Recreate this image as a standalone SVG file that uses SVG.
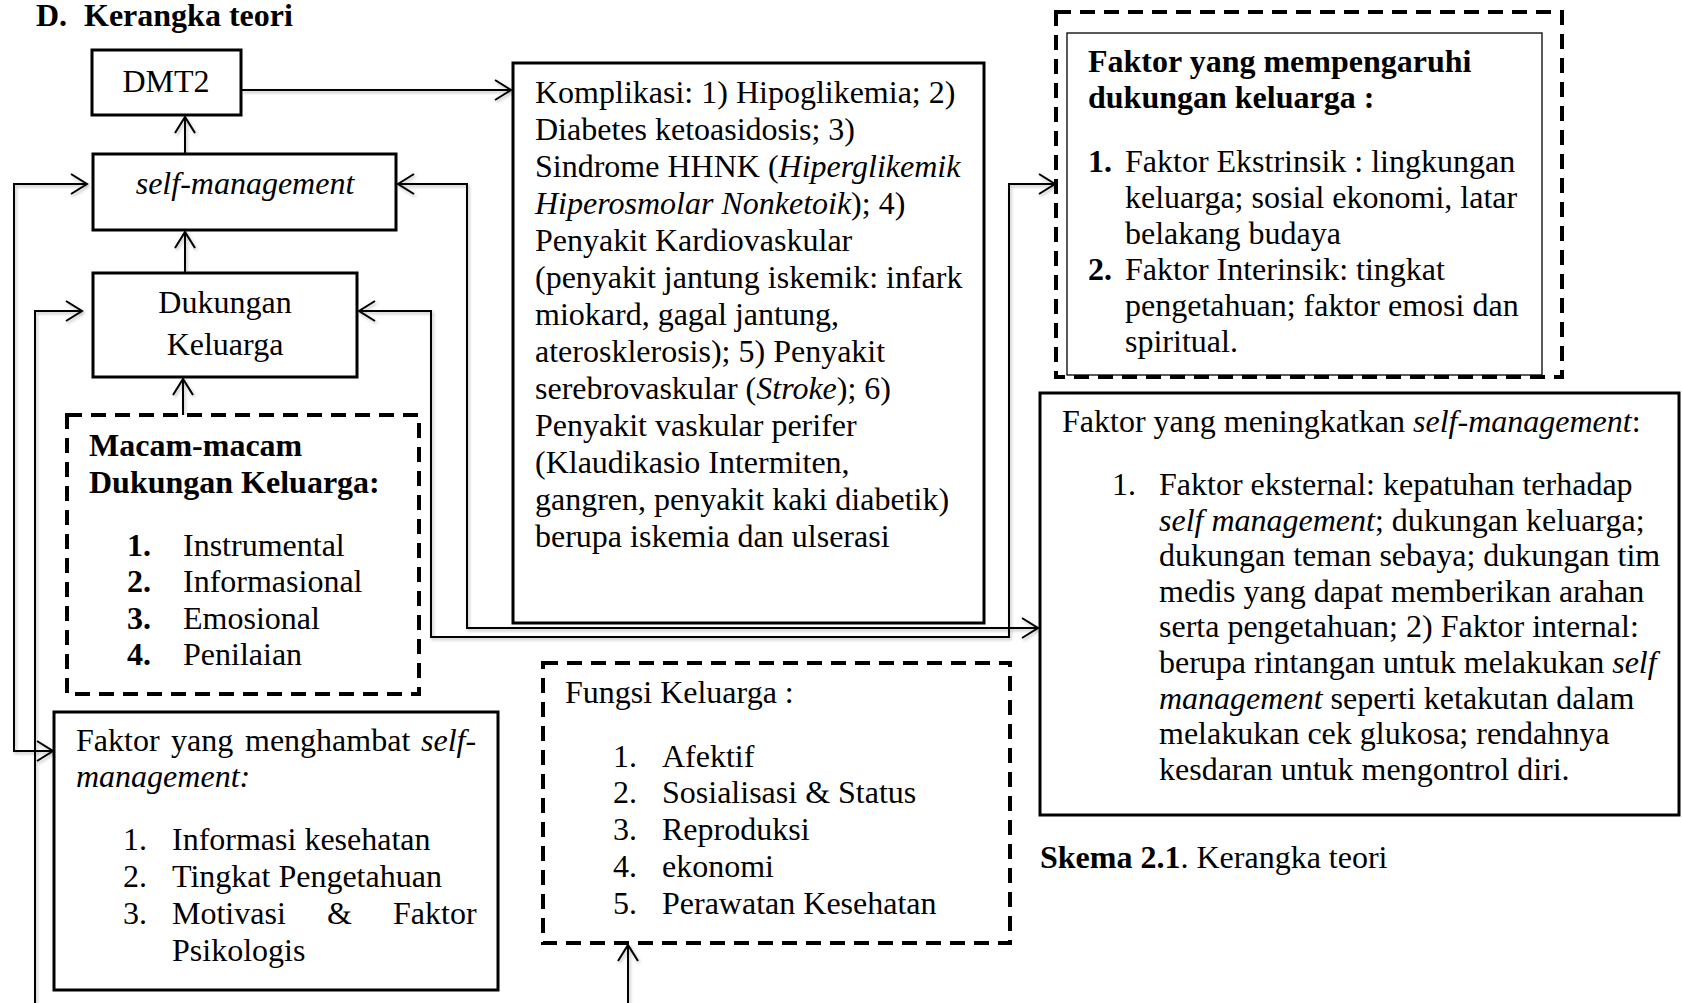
<svg xmlns="http://www.w3.org/2000/svg" width="1682" height="1003" viewBox="0 0 1682 1003">
<style>
.t{font-family:"Liberation Serif","Times New Roman",serif;font-size:32px;fill:#000}
.b{font-weight:bold}
.i{font-style:italic}
.box{fill:#fff;stroke:#000;stroke-width:3}
.thin{fill:none;stroke:#000;stroke-width:1.3}
.dash{fill:#fff;stroke:#000;stroke-width:4;stroke-dasharray:15 9}
.con{fill:none;stroke:#000;stroke-width:2;stroke-linejoin:miter}
</style>
<defs>
<marker id="arr" viewBox="-18 -12 20 24" refX="0" refY="0" markerWidth="20" markerHeight="24" markerUnits="userSpaceOnUse" orient="auto-start-reverse">
<path d="M-16,-10 L0,0 L-16,10" fill="none" stroke="#000" stroke-width="2"/>
</marker>
<filter id="sh" x="-5%" y="-5%" width="110%" height="110%">
<feDropShadow dx="1.5" dy="2" stdDeviation="1.5" flood-color="#000" flood-opacity="0.25"/>
</filter>
</defs>
<rect x="0" y="0" width="1682" height="1003" fill="#fff"/>

<text class="t b" x="36" y="26" font-size="31">D.</text>
<text class="t b" x="84" y="26" font-size="31">Kerangka teori</text>

<g id="connectors" filter="url(#sh)">
<path class="con" d="M241,90 L511,90" marker-end="url(#arr)"/>
<path class="con" d="M185,154 L185,117" marker-end="url(#arr)"/>
<path class="con" d="M185,273 L185,232" marker-end="url(#arr)"/>
<path class="con" d="M183,415 L183,379" marker-end="url(#arr)"/>
<path class="con" d="M87,184 L14,184 L14,751 L53,751" marker-start="url(#arr)" marker-end="url(#arr)"/>
<path class="con" d="M82,311 L35,311 L35,1003" marker-start="url(#arr)"/>
<path class="con" d="M398,184 L467,184 L467,628 L1038,628" marker-start="url(#arr)" marker-end="url(#arr)"/>
<path class="con" d="M359,311 L431,311 L431,637 L1009,637 L1009,184 L1055,184" marker-start="url(#arr)" marker-end="url(#arr)"/>
<path class="con" d="M628,1003 L628,945" marker-end="url(#arr)"/>
</g>

<g id="dmt2">
<rect class="box" x="92" y="50" width="149" height="65"/>
<text class="t" x="166" y="92" text-anchor="middle">DMT2</text>
</g>

<g id="self-management">
<rect class="box" x="93" y="154" width="303" height="76"/>
<text class="t i" x="245" y="194" text-anchor="middle">self-management</text>
</g>

<g id="dukungan-keluarga">
<rect class="box" x="93" y="273" width="264" height="104"/>
<text class="t" x="225" y="313" text-anchor="middle">Dukungan</text>
<text class="t" x="225" y="355" text-anchor="middle">Keluarga</text>
</g>

<g id="macam-dukungan">
<rect class="dash" x="67" y="415" width="352" height="279"/>
<text class="t b" x="89" y="456">Macam-macam</text>
<text class="t b" x="89" y="493">Dukungan Keluarga:</text>
<text class="t b" x="127" y="556">1.</text><text class="t" x="183" y="556">Instrumental</text>
<text class="t b" x="127" y="592">2.</text><text class="t" x="183" y="592">Informasional</text>
<text class="t b" x="127" y="629">3.</text><text class="t" x="183" y="629">Emosional</text>
<text class="t b" x="127" y="665">4.</text><text class="t" x="183" y="665">Penilaian</text>
</g>

<g id="faktor-menghambat">
<rect class="box" x="54" y="712" width="444" height="278"/>
<text class="t" y="751"><tspan x="76">Faktor</tspan><tspan x="171">yang</tspan><tspan x="245">menghambat</tspan><tspan x="421" class="i">self-</tspan></text>
<text class="t i" x="76" y="787">management:</text>
<text class="t" x="123" y="850">1.</text><text class="t" x="172" y="850">Informasi kesehatan</text>
<text class="t" x="123" y="887">2.</text><text class="t" x="172" y="887">Tingkat Pengetahuan</text>
<text class="t" x="123" y="924">3.</text><text class="t" y="924"><tspan x="172">Motivasi</tspan><tspan x="327">&amp;</tspan><tspan x="393">Faktor</tspan></text>
<text class="t" x="172" y="961">Psikologis</text>
</g>

<g id="komplikasi">
<rect class="box" x="513" y="63" width="471" height="560"/>
<text class="t" x="535" y="103">Komplikasi: 1) Hipoglikemia; 2)</text>
<text class="t" x="535" y="140">Diabetes ketoasidosis; 3)</text>
<text class="t" x="535" y="177">Sindrome HHNK (<tspan class="i">Hiperglikemik</tspan></text>
<text class="t" x="535" y="214"><tspan class="i">Hiperosmolar Nonketoik</tspan>); 4)</text>
<text class="t" x="535" y="251">Penyakit Kardiovaskular</text>
<text class="t" x="535" y="288">(penyakit jantung iskemik: infark</text>
<text class="t" x="535" y="325">miokard, gagal jantung,</text>
<text class="t" x="535" y="362">aterosklerosis); 5) Penyakit</text>
<text class="t" x="535" y="399">serebrovaskular (<tspan class="i">Stroke</tspan>); 6)</text>
<text class="t" x="535" y="436">Penyakit vaskular perifer</text>
<text class="t" x="535" y="473">(Klaudikasio Intermiten,</text>
<text class="t" x="535" y="510">gangren, penyakit kaki diabetik)</text>
<text class="t" x="535" y="547">berupa iskemia dan ulserasi</text>
</g>

<g id="fungsi-keluarga">
<rect class="dash" x="543" y="663" width="467" height="280"/>
<text class="t" x="565" y="703">Fungsi Keluarga :</text>
<text class="t" x="613" y="767">1.</text><text class="t" x="662" y="767">Afektif</text>
<text class="t" x="613" y="803">2.</text><text class="t" x="662" y="803">Sosialisasi &amp; Status</text>
<text class="t" x="613" y="840">3.</text><text class="t" x="662" y="840">Reproduksi</text>
<text class="t" x="613" y="877">4.</text><text class="t" x="662" y="877">ekonomi</text>
<text class="t" x="613" y="914">5.</text><text class="t" x="662" y="914">Perawatan Kesehatan</text>
</g>

<g id="faktor-mempengaruhi">
<rect class="dash" x="1056" y="12" width="506" height="365"/>
<rect class="thin" x="1067" y="33" width="475" height="342"/>
<text class="t b" x="1088" y="72">Faktor yang mempengaruhi</text>
<text class="t b" x="1088" y="108">dukungan keluarga :</text>
<text class="t b" x="1088" y="172">1.</text><text class="t" x="1125" y="172">Faktor Ekstrinsik : lingkungan</text>
<text class="t" x="1125" y="208">keluarga; sosial ekonomi, latar</text>
<text class="t" x="1125" y="244">belakang budaya</text>
<text class="t b" x="1088" y="280">2.</text><text class="t" x="1125" y="280">Faktor Interinsik: tingkat</text>
<text class="t" x="1125" y="316">pengetahuan; faktor emosi dan</text>
<text class="t" x="1125" y="352">spiritual.</text>
</g>

<g id="faktor-meningkatkan">
<rect class="box" x="1040" y="393" width="639" height="422"/>
<text class="t" x="1062" y="432">Faktor yang meningkatkan <tspan class="i">self-management</tspan>:</text>
<text class="t" x="1112" y="495">1.</text>
<text class="t" x="1159" y="495">Faktor eksternal: kepatuhan terhadap</text>
<text class="t" x="1159" y="531"><tspan class="i">self management</tspan>; dukungan keluarga;</text>
<text class="t" x="1159" y="566">dukungan teman sebaya; dukungan tim</text>
<text class="t" x="1159" y="602">medis yang dapat memberikan arahan</text>
<text class="t" x="1159" y="637">serta pengetahuan; 2) Faktor internal:</text>
<text class="t" x="1159" y="673">berupa rintangan untuk melakukan <tspan class="i">self</tspan></text>
<text class="t" x="1159" y="709"><tspan class="i">management</tspan> seperti ketakutan dalam</text>
<text class="t" x="1159" y="744">melakukan cek glukosa; rendahnya</text>
<text class="t" x="1159" y="780">kesdaran untuk mengontrol diri.</text>
</g>

<text class="t" x="1040" y="868"><tspan class="b">Skema 2.1</tspan>. Kerangka teori</text>
</svg>
